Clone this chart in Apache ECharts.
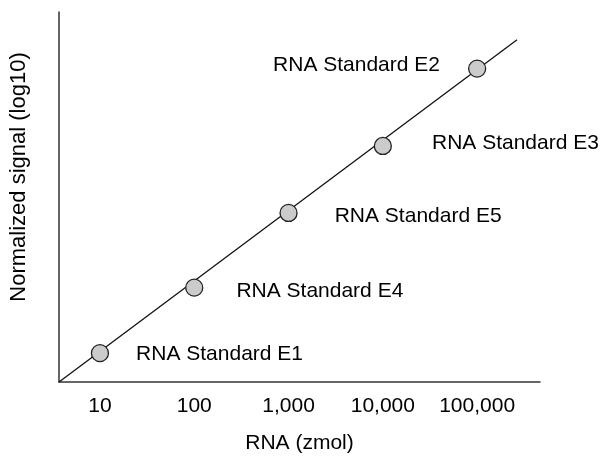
<!DOCTYPE html>
<html>
<head>
<meta charset="utf-8">
<script src="https://cdn.jsdelivr.net/npm/echarts@6/dist/echarts.min.js"></script>
<style>
  html, body { margin: 0; padding: 0; background: #fff; }
  #chart { width: 612px; height: 459px; }
</style>
</head>
<body>
<div id="chart"></div>
<script>
// RNA amount (zmol) and normalized signal (log10, arbitrary units)
const rnaZmol = [10, 100, 1000, 10000, 100000];
const signal = [0.78, 2.55, 4.57, 6.38, 8.47];
const standards = ['RNA Standard E1', 'RNA Standard E4', 'RNA Standard E5', 'RNA Standard E3', 'RNA Standard E2'];
// fitted line ends
const fitX = [3.68, 265000];
const fitY = [0, 9.25];

// label placement per point: side, distance, vertical nudge
const labelSide = ['right', 'right', 'right', 'right', 'left'];
const labelDist = [27, 33, 37, 40, 28];
const labelNudge = [1, 4, 3, -3, -3];

const FONT = '"Liberation Sans", Arial, sans-serif';
const TXT = '#000';

let chart = echarts.init(document.getElementById('chart'));

let points = rnaZmol.map((x, i) => ({
  value: [x, signal[i]],
  label: {
    show: true,
    formatter: standards[i],
    position: labelSide[i],
    distance: labelDist[i],
    offset: [0, labelNudge[i]]
  }
}));

let option = {
  animation: false,
  grid: {
    left: 58,
    top: 12,
    right: 72,
    bottom: 76
  },
  xAxis: {
    type: 'log',
    logBase: 10,
    min: 3.68,
    max: 464000,
    name: 'RNA (zmol)',
    nameLocation: 'middle',
    nameGap: 51,
    nameTextStyle: { color: TXT, fontSize: 21, fontFamily: FONT },
    axisLine: { show: true, lineStyle: { color: '#333', width: 1.5 } },
    axisTick: { show: false },
    splitLine: { show: false },
    minorTick: { show: false },
    axisLabel: {
      color: TXT,
      fontSize: 21,
      fontFamily: FONT,
      margin: 14,
      showMinLabel: false,
      showMaxLabel: false,
      formatter: v => Math.round(v).toLocaleString('en-US')
    }
  },
  yAxis: {
    type: 'value',
    min: 0,
    max: 10,
    name: 'Normalized signal (log10)',
    nameLocation: 'middle',
    nameGap: 29,
    nameTextStyle: { color: TXT, fontSize: 22, fontFamily: FONT, padding: [0, 0, 0, 40] },
    axisLine: { show: true, lineStyle: { color: '#333', width: 1.5 } },
    axisTick: { show: false },
    splitLine: { show: false },
    axisLabel: { show: false }
  },
  series: [{
    type: 'line',
    data: fitX.map((x, i) => [x, fitY[i]]),
    symbol: 'none',
    lineStyle: { color: '#111', width: 1.3 },
    z: 2
  }, {
    type: 'scatter',
    data: points,
    symbol: 'circle',
    symbolSize: 17,
    itemStyle: { color: '#cbcbcb', borderColor: '#222', borderWidth: 1.3, opacity: 1 },
    label: { color: TXT, fontSize: 21, fontFamily: FONT, opacity: 1, textBorderWidth: 0 },
    emphasis: { disabled: true },
    z: 3
  }]
};

chart.setOption(option);

window.addEventListener('resize', () => {
  chart.resize();
});
</script>
</body>
</html>
